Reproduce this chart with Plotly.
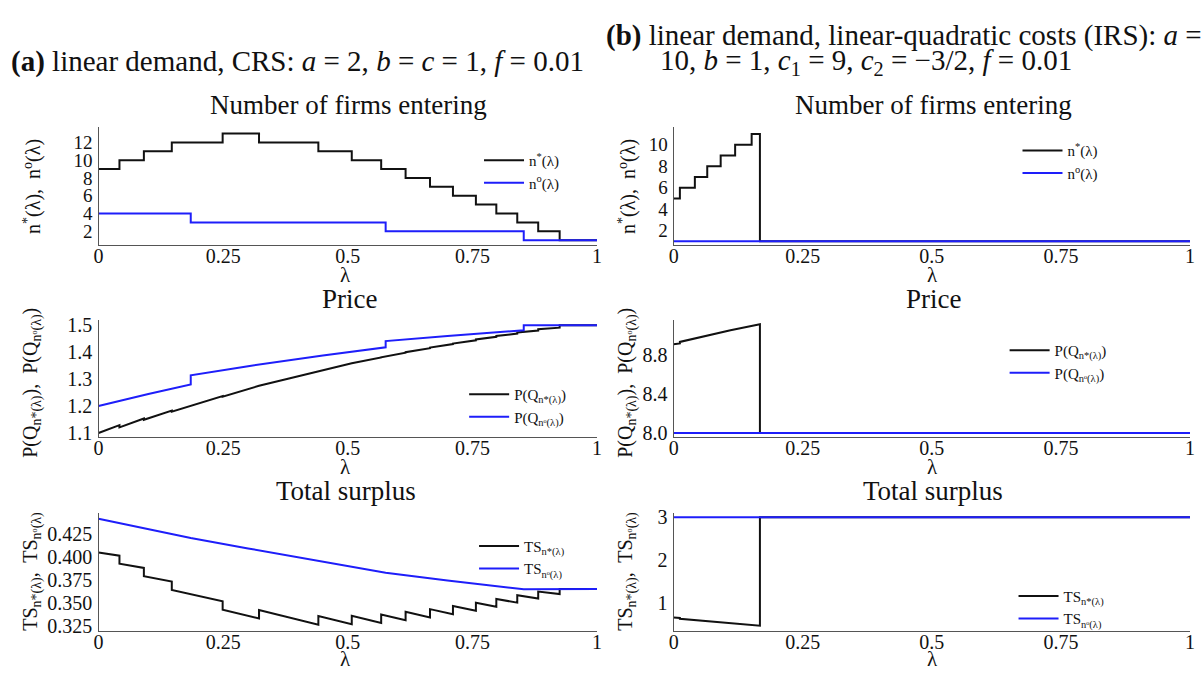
import plotly.graph_objects as go

# ---------------- data ----------------
# panel (a): linear demand, CRS
lam_nstar_a = [0, 0.042, 0.091, 0.147, 0.249, 0.322, 0.441, 0.508, 0.567, 0.616,
               0.665, 0.711, 0.757, 0.798, 0.840, 0.882, 0.925, 1.0]
nstar_a = [9, 10, 11, 12, 13, 12, 11, 10, 9, 8, 7, 6, 5, 4, 3, 2, 1, 1]
lam_nopt_a = [0, 0.185, 0.576, 0.853, 1.0]
nopt_a = [4, 3, 2, 1, 1]

lam_pstar_a = [0, 0.042, 0.042, 0.091, 0.091, 0.147, 0.147, 0.2, 0.249, 0.249, 0.322,
               0.322, 0.38, 0.441, 0.441, 0.508, 0.508, 0.567, 0.567, 0.616, 0.616,
               0.665, 0.665, 0.711, 0.711, 0.757, 0.757, 0.798, 0.798, 0.840, 0.840,
               0.882, 0.882, 0.925, 0.925, 1.0]
pstar_a = [1.100, 1.129, 1.121, 1.154, 1.149, 1.183, 1.179, 1.210, 1.237, 1.235, 1.273,
           1.275, 1.301, 1.328, 1.330, 1.357, 1.359, 1.380, 1.381, 1.398, 1.400,
           1.415, 1.417, 1.430, 1.432, 1.444, 1.447, 1.457, 1.460, 1.469, 1.473,
           1.480, 1.485, 1.491, 1.500, 1.500]
lam_popt_a = [0, 0.1, 0.185, 0.185, 0.3, 0.45, 0.576, 0.576, 0.7, 0.853, 0.853, 1.0]
popt_a = [1.200, 1.245, 1.280, 1.314, 1.348, 1.388, 1.418, 1.441, 1.460, 1.481, 1.500, 1.500]

lam_tsstar_a = lam_pstar_a
tsstar_a = [0.405, 0.4016, 0.3927, 0.3881, 0.3790, 0.3732, 0.3640, 0.3578, 0.3517, 0.3423,
            0.3328, 0.3421, 0.3345, 0.3260, 0.3354, 0.3264, 0.3357, 0.3279, 0.3372, 0.3309,
            0.3401, 0.3339, 0.3430, 0.3375, 0.3465, 0.3413, 0.3501, 0.3456, 0.3542, 0.3501,
            0.3583, 0.3547, 0.3623, 0.3595, 0.365, 0.365]
lam_tsopt_a = [0, 0.1, 0.185, 0.3, 0.45, 0.576, 0.7, 0.853, 1.0]
tsopt_a = [0.442, 0.4305, 0.4210, 0.4095, 0.3948, 0.3828, 0.3744, 0.3648, 0.365]

# panel (b): linear demand, linear-quadratic costs
lam_nstar_b = [0, 0.012, 0.041, 0.065, 0.091, 0.119, 0.151, 0.167, 1.0]
nstar_b = [5, 6, 7, 8, 9, 10, 11, 1, 1]
lam_nopt_b = [0, 1.0]
nopt_b = [1, 1]

lam_pstar_b = [0, 0.012, 0.012, 0.06, 0.11, 0.167, 0.167, 1.0]
pstar_b = [8.905, 8.915, 8.930, 8.990, 9.050, 9.110, 8.0, 8.0]
lam_popt_b = [0, 1.0]
popt_b = [8.0, 8.0]

lam_tsstar_b = [0, 0.012, 0.012, 0.08, 0.167, 0.167, 1.0]
tsstar_b = [0.65, 0.64, 0.62, 0.55, 0.46, 3.0, 3.0]
lam_tsopt_b = [0, 1.0]
tsopt_b = [3.0, 3.0]

# tick labels
x_ticks = [0, 0.25, 0.5, 0.75, 1]
x_ticktext = ["0", "0.25", "0.5", "0.75", "1"]
y1_ticks = [2, 4, 6, 8, 10, 12]
y2_ticks = [2, 4, 6, 8, 10]
y3_ticks = [1.1, 1.2, 1.3, 1.4, 1.5]
y4_ticks = [8.0, 8.4, 8.8]
y5_ticks = [0.325, 0.35, 0.375, 0.4, 0.425]
y6_ticks = [1, 2, 3]

# text
titles = ["Number of firms entering", "Price", "Total surplus"]
leg_n = ["n<sup>*</sup>(λ)", "n<sup>o</sup>(λ)"]
leg_p = ["P(Q<sub>n*(λ)</sub>)", "P(Q<sub>nᵒ(λ)</sub>)"]
leg_ts = ["TS<sub>n*(λ)</sub>", "TS<sub>nᵒ(λ)</sub>"]
ytitles = ["n<sup>*</sup>(λ),  n<sup>o</sup>(λ)",
           "P(Q<sub>n*(λ)</sub>),  P(Q<sub>nᵒ(λ)</sub>)",
           "TS<sub>n*(λ)</sub>,  TS<sub>nᵒ(λ)</sub>"]
header_a = "<b>(a)</b> linear demand, CRS: <i>a</i> = 2, <i>b</i> = <i>c</i> = 1, <i>f</i> = 0.01"
header_b1 = "<b>(b)</b> linear demand, linear-quadratic costs (IRS): <i>a</i> ="
header_b2 = "10, <i>b</i> = 1, <i>c</i><sub>1</sub> = 9, <i>c</i><sub>2</sub> = −3/2, <i>f</i> = 0.01"

# ---------------- styling ----------------
W, H = 1201, 675
FONT = "Liberation Serif, DejaVu Serif, serif"
BLACK = "#111111"
BLUE = "rgb(30,30,250)"
AXC = "#555555"
TXT = "#111111"

def px(x):
    return x / W

def py(y):
    return 1 - y / H

fig = go.Figure()

series = [
    (1, lam_nstar_a, nstar_a, lam_nopt_a, nopt_a, leg_n, "hv"),
    (2, lam_nstar_b, nstar_b, lam_nopt_b, nopt_b, leg_n, "hv"),
    (3, lam_pstar_a, pstar_a, lam_popt_a, popt_a, leg_p, "linear"),
    (4, lam_pstar_b, pstar_b, lam_popt_b, popt_b, leg_p, "linear"),
    (5, lam_tsstar_a, tsstar_a, lam_tsopt_a, tsopt_a, leg_ts, "linear"),
    (6, lam_tsstar_b, tsstar_b, lam_tsopt_b, tsopt_b, leg_ts, "linear"),
]

for k, xs, ys, xo, yo, names, shape in series:
    suf = "" if k == 1 else str(k)
    lg = "legend" if k == 1 else "legend" + str(k)
    fig.add_trace(go.Scatter(x=xs, y=ys, mode="lines", name=names[0],
                             line=dict(color=BLACK, width=2, shape=shape),
                             xaxis="x" + suf, yaxis="y" + suf, legend=lg))
    fig.add_trace(go.Scatter(x=xo, y=yo, mode="lines", name=names[1],
                             line=dict(color=BLUE, width=2, shape=shape),
                             xaxis="x" + suf, yaxis="y" + suf, legend=lg))

xdom_left = [px(94.3), px(597)]
xdom_right = [px(674.3), px(1195)]
ydoms = [[py(242.7), py(123)], [py(439), py(320)], [py(637), py(517)]]
yranges = [[0.49, 13.69], [0.68, 11.62], [1.0855, 1.518], [7.96, 9.15],
           [0.3193, 0.448], [0.34, 3.09]]
yticks = [y1_ticks, y2_ticks, y3_ticks, y4_ticks, y5_ticks, y6_ticks]
yfmt = ["d", "d", ".1f", ".1f", ".3f", "d"]

layout = dict(
    width=W, height=H,
    margin=dict(l=0, r=0, t=0, b=0),
    paper_bgcolor="white", plot_bgcolor="white",
    font=dict(family=FONT, color=TXT),
)

for k in range(1, 7):
    suf = "" if k == 1 else str(k)
    row = (k - 1) // 2
    left = (k % 2 == 1)
    layout["xaxis" + suf] = dict(
        domain=xdom_left if left else xdom_right,
        anchor="y" + suf, range=[0, 1], tickvals=x_ticks, ticktext=x_ticktext,
        showgrid=False, zeroline=False, showline=True, linecolor=AXC, linewidth=1.4,
        ticks="", ticklen=0, ticklabelstandoff=-7, ticklabeloverflow="allow",
        tickfont=dict(size=20, family=FONT, color=TXT),
    )
    layout["yaxis" + suf] = dict(
        domain=ydoms[row], anchor="x" + suf, range=yranges[k - 1],
        tickvals=yticks[k - 1], tickformat=yfmt[k - 1],
        showgrid=False, zeroline=False, showline=True, linecolor=AXC, linewidth=1.4,
        ticks="", ticklen=0, ticklabelstandoff=1,
        tickfont=dict(size=19 if k in (1, 2) else 20, family=FONT, color=TXT),
    )

# legends: (left x px, center y px)
leg_pos = [(478, 168), (1021, 158), (463, 407), (1008, 362), (473, 562), (1017, 613)]
for k, (lx, ly) in enumerate(leg_pos, start=1):
    key = "legend" if k == 1 else "legend" + str(k)
    layout[key] = dict(x=px(lx), y=py(ly), xanchor="left", yanchor="middle",
                       bgcolor="rgba(0,0,0,0)", borderwidth=0,
                       font=dict(size=15, family=FONT, color=TXT),
                       itemwidth=40, tracegroupgap=0)

fig.update_layout(**layout)

ann = []
# subplot titles
title_pos = [(346, 100), (936, 100), (347, 298), (936, 298), (344, 494), (936, 494)]
for i, (tx, ty) in enumerate(title_pos):
    ann.append(dict(text=titles[i // 2], x=px(tx), y=py(ty), xref="paper", yref="paper",
                    showarrow=False, xanchor="center", yanchor="middle",
                    font=dict(size=27, family=FONT, color=TXT)))
# x-axis titles
for xx in (343, 935):
    for yy in (274, 470, 666):
        ann.append(dict(text="λ", x=px(xx), y=py(yy), xref="paper", yref="paper",
                        showarrow=False, xanchor="center", yanchor="middle",
                        font=dict(size=21, family=FONT, color=TXT)))
# y-axis titles
yt_rows = [183, 384, 576]
for r in range(3):
    for xx in (27, 627):
        ann.append(dict(text=ytitles[r], x=px(xx), y=py(yt_rows[r]), xref="paper", yref="paper",
                        showarrow=False, xanchor="center", yanchor="middle", textangle=-90,
                        font=dict(size=20, family=FONT, color=TXT)))
# headers
ann.append(dict(text=header_a, x=px(4), y=py(56), xref="paper", yref="paper",
                showarrow=False, xanchor="left", yanchor="middle",
                font=dict(size=29, family=FONT, color=TXT)))
ann.append(dict(text=header_b1, x=px(604), y=py(29), xref="paper", yref="paper",
                showarrow=False, xanchor="left", yanchor="middle",
                font=dict(size=29, family=FONT, color=TXT)))
ann.append(dict(text=header_b2, x=px(658), y=py(56), xref="paper", yref="paper",
                showarrow=False, xanchor="left", yanchor="middle",
                font=dict(size=29, family=FONT, color=TXT)))

fig.update_layout(annotations=ann)
fig.write_html("out.html", config={"displayModeBar": False},
               post_script="document.body.style.margin='0px';")
